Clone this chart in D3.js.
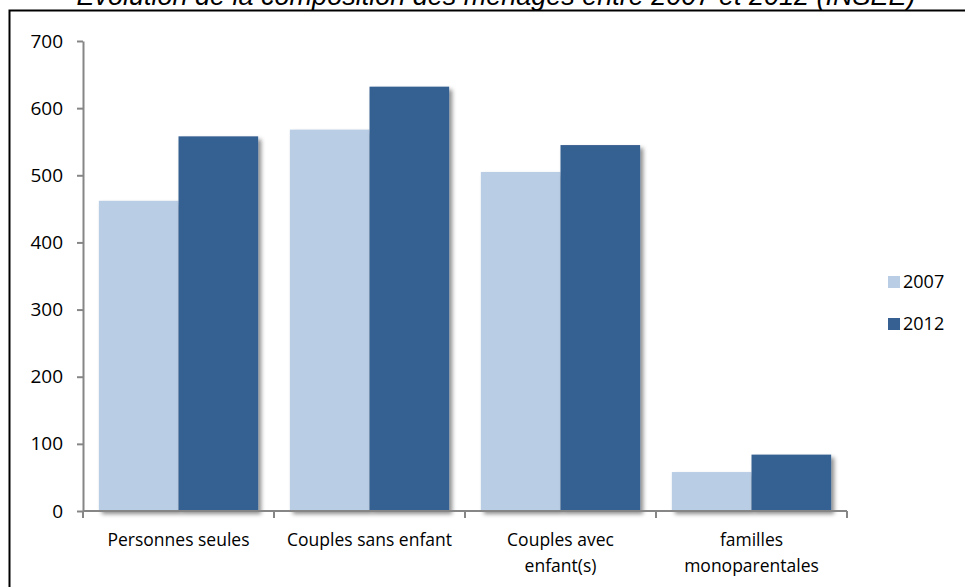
<!DOCTYPE html>
<html>
<head>
<meta charset="utf-8">
<script src="https://cdn.jsdelivr.net/npm/d3@7"></script>
<style>
  html, body { margin: 0; padding: 0; background: #fff; }
  svg { display: block; }
</style>
</head>
<body>
<svg id="chart" width="965" height="587"></svg>
<script>
// Household composition, 2007 vs 2012
const categories = [
  ["Personnes seules"],
  ["Couples sans enfant"],
  ["Couples avec", "enfant(s)"],
  ["familles", "monoparentales"]
];
const years = ["2007", "2012"];
const values2007 = [462, 568, 505, 58];
const values2012 = [558, 632, 545, 84];
const yTicks = [0, 100, 200, 300, 400, 500, 600, 700];
const title = "Evolution de la composition des ménages entre 2007 et 2012 (INSEE)";

const colors = { "2007": "#B9CDE5", "2012": "#366092" };
const axisColor = "#868686";
const labelFont = "'Open Sans', sans-serif";

const svg = d3.select("#chart");

// drop shadow for the bars
const defs = svg.append("defs");
const f = defs.append("filter").attr("id", "shadow")
  .attr("x", "-10%").attr("y", "-10%").attr("width", "130%").attr("height", "130%");
f.append("feDropShadow").attr("dx", 3).attr("dy", 3).attr("stdDeviation", 2)
  .attr("flood-color", "#000").attr("flood-opacity", 0.45);

// frame
svg.append("path")
  .attr("d", "M9.5,587 L9.5,10.5 L965,10.5")
  .attr("fill", "none").attr("stroke", "#000").attr("stroke-width", 2);

// title, sitting on the top edge of the frame
svg.append("text")
  .attr("x", 496).attr("y", 5)
  .attr("text-anchor", "middle")
  .attr("font-family", "'Liberation Sans', Arial, sans-serif")
  .attr("font-style", "italic")
  .attr("font-size", 27)
  .attr("fill", "#000")
  .text(title);

const plot = { left: 83, right: 847, top: 41, bottom: 511 };

const x0 = d3.scaleBand()
  .domain(d3.range(categories.length))
  .range([plot.left, plot.right])
  .paddingInner(0.166).paddingOuter(0.083);
// band boundaries for the ticks
const xEdges = d3.scaleBand()
  .domain(d3.range(categories.length))
  .range([plot.left, plot.right]);
const x1 = d3.scaleBand().domain(years).range([0, x0.bandwidth()]);
const y = d3.scaleLinear().domain([0, 700]).range([plot.bottom, plot.top]);

const series = { "2007": values2007, "2012": values2012 };

// bars
const groups = svg.append("g").selectAll("g")
  .data(categories.map((c, i) => i))
  .join("g")
  .attr("transform", i => `translate(${x0(i)},0)`);

groups.selectAll("rect")
  .data(i => years.map(yr => ({ yr, v: series[yr][i] })))
  .join("rect")
  .attr("x", d => x1(d.yr))
  .attr("y", d => y(d.v))
  .attr("width", x1.bandwidth())
  .attr("height", d => y(0) - y(d.v))
  .attr("fill", d => colors[d.yr])
  .attr("filter", "url(#shadow)");

// y axis
const yAxis = svg.append("g")
  .attr("transform", `translate(${plot.left},0)`)
  .call(d3.axisLeft(y).tickValues(yTicks).tickSize(6).tickPadding(14).tickSizeOuter(0));
yAxis.select(".domain").attr("stroke", axisColor).attr("stroke-width", 2);
yAxis.selectAll(".tick line").attr("stroke", axisColor).attr("stroke-width", 2);
yAxis.selectAll(".tick text")
  .attr("font-family", labelFont).attr("font-size", 19).attr("fill", "#000");

// x axis line and boundary ticks
const xAxisG = svg.append("g");
xAxisG.append("line")
  .attr("x1", plot.left).attr("x2", plot.right)
  .attr("y1", plot.bottom).attr("y2", plot.bottom)
  .attr("stroke", axisColor).attr("stroke-width", 2);
const edges = categories.map((c, i) => xEdges(i)).concat([plot.right]);
xAxisG.selectAll("line.tk")
  .data(edges)
  .join("line").attr("class", "tk")
  .attr("x1", d => d).attr("x2", d => d)
  .attr("y1", plot.bottom).attr("y2", plot.bottom + 7)
  .attr("stroke", axisColor).attr("stroke-width", 2);

// category labels
xAxisG.selectAll("text.cat")
  .data(categories)
  .join("text").attr("class", "cat")
  .attr("x", (d, i) => xEdges(i) + xEdges.bandwidth() / 2)
  .attr("y", 546)
  .attr("text-anchor", "middle")
  .attr("font-family", labelFont).attr("font-size", 17.5).attr("fill", "#000")
  .selectAll("tspan")
  .data(d => d)
  .join("tspan")
  .attr("x", function () { return d3.select(this.parentNode).attr("x"); })
  .attr("dy", (d, j) => j === 0 ? 0 : 26)
  .text(d => d);

// legend
const legend = svg.append("g").selectAll("g")
  .data(years)
  .join("g")
  .attr("transform", (d, i) => `translate(888,${276 + i * 42})`);
legend.append("rect")
  .attr("width", 12).attr("height", 12)
  .attr("fill", d => colors[d]);
legend.append("text")
  .attr("x", 15).attr("y", 12)
  .attr("font-family", labelFont).attr("font-size", 18).attr("fill", "#000")
  .text(d => d);
</script>
</body>
</html>
